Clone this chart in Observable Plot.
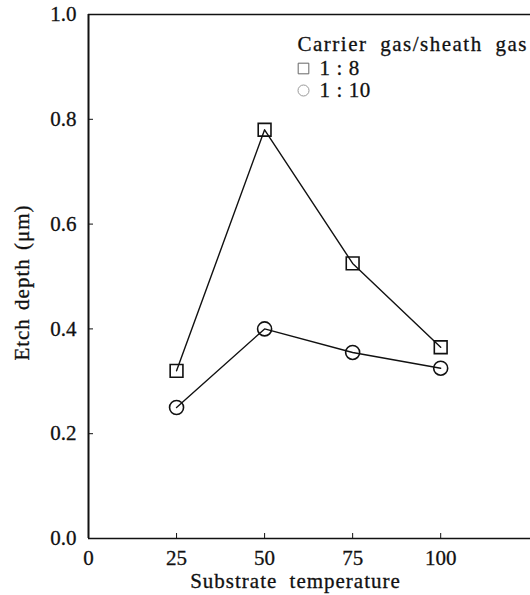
<!DOCTYPE html>
<html>
<head>
<meta charset="utf-8">
<script src="https://cdn.jsdelivr.net/npm/d3@7"></script>
<script src="https://cdn.jsdelivr.net/npm/@observablehq/plot@0.6"></script>
<style>
  html, body { margin: 0; padding: 0; background: #fff; }
  #chart svg { display: block; }
</style>
</head>
<body>
<div id="chart"></div>
<script>
// Data
const temperatures = [25, 50, 75, 100];
const depth_1_8 = [0.32, 0.78, 0.525, 0.365];
const depth_1_10 = [0.25, 0.40, 0.355, 0.325];
const seriesNames = ["1 : 8", "1 : 10"];
const seriesSymbols = ["square", "circle"];
const xTicks = [0, 25, 50, 75, 100];
const yTicks = [0, 0.2, 0.4, 0.6, 0.8, 1.0];
const xLabel = "Substrate temperature";
const yLabel = "Etch depth (μm)";
const legendTitle = "Carrier gas/sheath gas";

const s18 = temperatures.map((t, i) => ({t, v: depth_1_8[i], s: seriesNames[0]}));
const s110 = temperatures.map((t, i) => ({t, v: depth_1_10[i], s: seriesNames[1]}));
const legendRows = seriesNames.map((name, i) => ({name, symbol: seriesSymbols[i], i}));

const ink = "#111";
const serif = "'Liberation Serif', 'Times New Roman', serif";

const chart = Plot.plot({
  width: 530,
  height: 595,
  marginLeft: 88,
  marginRight: 0,
  marginTop: 14,
  marginBottom: 57,
  x: {domain: [0, 125.5]},
  y: {domain: [0, 1]},
  style: {fontFamily: serif, fontSize: "21px", color: ink, background: "#fff"},
  marks: [
    Plot.ruleY([0], {stroke: ink, strokeWidth: 1.6}),
    Plot.ruleY([1], {stroke: ink, strokeWidth: 1.6}),
    Plot.ruleX([0], {stroke: ink, strokeWidth: 2}),
    Plot.axisX({ticks: xTicks, tickSize: -5, tickPadding: 17, tickFormat: d => String(d), label: null, stroke: ink, fill: ink}),
    Plot.axisY({ticks: yTicks, tickSize: -5, tickPadding: 17, tickFormat: d3.format(".1f"), label: null, stroke: ink, fill: ink}),
    Plot.line(s18, {x: "t", y: "v", stroke: ink, strokeWidth: 1.4}),
    Plot.line(s110, {x: "t", y: "v", stroke: ink, strokeWidth: 1.4}),
    Plot.dot(s18, {x: "t", y: "v", symbol: "square", r: 7.2, stroke: ink, strokeWidth: 1.6, fill: "none"}),
    Plot.dot(s110, {x: "t", y: "v", symbol: "circle", r: 7, stroke: ink, strokeWidth: 1.6, fill: "none"}),
    Plot.text([xLabel], {frameAnchor: "bottom", text: d => d, dx: -14, dy: 43, textAnchor: "middle", lineAnchor: "middle", fill: ink}),
    Plot.text([yLabel], {frameAnchor: "left", text: d => d, rotate: -90, dx: -66, dy: 6, textAnchor: "middle", lineAnchor: "middle", fill: ink}),
    Plot.text([legendTitle], {frameAnchor: "top-left", text: d => d, dx: 209, dy: 30, textAnchor: "start", lineAnchor: "middle", fill: ink}),
    Plot.text(legendRows.slice(0, 1), {frameAnchor: "top-left", text: "name", dx: 231, dy: 53.5, textAnchor: "start", lineAnchor: "middle", fill: ink}),
    Plot.text(legendRows.slice(1, 2), {frameAnchor: "top-left", text: "name", dx: 231, dy: 75.5, textAnchor: "start", lineAnchor: "middle", fill: ink}),
    Plot.dot(legendRows.slice(0, 1), {frameAnchor: "top-left", symbol: "symbol", r: 6, dx: 215, dy: 54, stroke: "#666", strokeWidth: 1, fill: "none"}),
    Plot.dot(legendRows.slice(1, 2), {frameAnchor: "top-left", symbol: "symbol", r: 5.5, dx: 215, dy: 76, stroke: "#999", strokeWidth: 1, fill: "none"})
  ]
});

// typographic tuning of the scanned-style labels
const spacing = new Map([
  [xLabel, ["1.0px", "6px"]],
  [yLabel, ["1.0px", "2px"]],
  [legendTitle, ["1.5px", "6px"]],
  [seriesNames[0], ["0.6px", "0px"]],
  [seriesNames[1], ["0.6px", "0px"]]
]);
d3.select(chart).selectAll("text").each(function() {
  const el = d3.select(this);
  el.style("font-family", serif).style("font-variant-numeric", "normal")
    .style("stroke", ink).style("stroke-width", "0.3px");
  const sp = spacing.get(this.textContent);
  if (sp) el.style("letter-spacing", sp[0]).style("word-spacing", sp[1]);
});
document.getElementById("chart").appendChild(chart);
</script>
</body>
</html>
